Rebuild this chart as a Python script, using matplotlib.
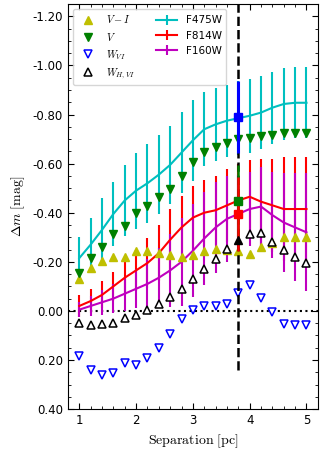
import numpy as np
import matplotlib
matplotlib.use("Agg")
import matplotlib.pyplot as plt
from matplotlib.ticker import MultipleLocator, FormatStrFormatter

plt.rcParams['mathtext.fontset'] = 'cm'
plt.rcParams['font.family'] = ['DejaVu Sans']

sep = [1.0, 1.2, 1.4, 1.6, 1.8, 2.0, 2.2, 2.4, 2.6, 2.8, 3.0,
       3.2, 3.4, 3.6, 3.8, 4.0, 4.2, 4.4, 4.6, 4.8, 5.0]

f475w = [-0.215, -0.27, -0.33, -0.395, -0.45, -0.49, -0.52, -0.555, -0.595, -0.645, -0.695,
         -0.74, -0.76, -0.775, -0.785, -0.795, -0.808, -0.828, -0.843, -0.848, -0.848]
f475w_err = [0.085, 0.11, 0.13, 0.13, 0.145, 0.155, 0.16, 0.16, 0.16, 0.165, 0.165,
             0.15, 0.15, 0.147, 0.15, 0.15, 0.15, 0.147, 0.147, 0.145, 0.145]

f814w = [-0.02, -0.04, -0.065, -0.10, -0.135, -0.165, -0.195, -0.235, -0.29, -0.34, -0.38,
         -0.40, -0.41, -0.43, -0.45, -0.465, -0.445, -0.43, -0.415, -0.415, -0.415]
f814w_err = [0.045, 0.05, 0.055, 0.06, 0.07, 0.085, 0.10, 0.115, 0.125, 0.13, 0.13,
             0.135, 0.14, 0.15, 0.15, 0.15, 0.175, 0.19, 0.21, 0.21, 0.21]

f160w = [-0.005, -0.02, -0.035, -0.05, -0.07, -0.09, -0.11, -0.135, -0.165, -0.20, -0.245,
         -0.295, -0.34, -0.375, -0.395, -0.415, -0.425, -0.39, -0.36, -0.34, -0.32]
f160w_err = [0.03, 0.04, 0.05, 0.06, 0.07, 0.08, 0.10, 0.12, 0.15, 0.18, 0.19,
             0.19, 0.185, 0.175, 0.16, 0.15, 0.16, 0.175, 0.20, 0.22, 0.24]

v_minus_i = [-0.13, -0.174, -0.204, -0.219, -0.219, -0.242, -0.246, -0.235, -0.228, -0.221, -0.228,
             -0.242, -0.251, -0.248, -0.242, -0.23, -0.26, -0.276, -0.30, -0.30, -0.30]
v_band = [-0.154, -0.215, -0.262, -0.312, -0.346, -0.40, -0.428, -0.466, -0.496, -0.55, -0.608,
          -0.649, -0.669, -0.686, -0.699, -0.703, -0.713, -0.717, -0.724, -0.726, -0.726]
w_vi = [0.183, 0.24, 0.261, 0.254, 0.213, 0.22, 0.193, 0.152, 0.094, 0.034, -0.004,
        -0.02, -0.018, -0.029, -0.072, -0.106, -0.054, 0.004, 0.053, 0.058, 0.058]
w_hvi_sep = [1.0, 1.2, 1.4, 1.6, 1.8, 2.0, 2.2, 2.4, 2.6, 2.8, 3.0,
             3.2, 3.4, 3.6, 4.0, 4.2, 4.4, 4.6, 4.8, 5.0]
w_hvi = [0.05, 0.057, 0.054, 0.048, 0.03, 0.016, -0.004, -0.03, -0.058, -0.088, -0.129,
         -0.17, -0.21, -0.251, -0.312, -0.316, -0.282, -0.248, -0.219, -0.194]

# special measurements at the reference separation
ref_sep = 3.8
ref_f475w, ref_f475w_err = -0.79, 0.145
ref_v, ref_v_err = -0.448, 0.148
ref_f814w, ref_f814w_err = -0.394, 0.15
ref_whvi = -0.29
ref_line = [0.24, -1.30]

fig = plt.figure(figsize=(3.25, 4.55), dpi=100)
ax = fig.add_axes([0.209, 0.101, 0.769, 0.890])

ax.axhline(0.0, color='k', ls=':', lw=1.5, zorder=1)

ax.errorbar(sep, f475w, yerr=f475w_err, color='c', lw=1.5, elinewidth=1.5, label='F475W', zorder=2)
ax.errorbar(sep, f814w, yerr=f814w_err, color='r', lw=1.5, elinewidth=1.5, label='F814W', zorder=2)
ax.errorbar(sep, f160w, yerr=f160w_err, color='m', lw=1.5, elinewidth=1.5, label='F160W', zorder=2)

ax.plot(sep, v_minus_i, '^', color='y', ms=5.5, label=r'$V-I$', zorder=3)
ax.plot(sep, v_band, 'v', color='g', ms=5.5, label=r'$V$', zorder=3)
ax.plot(sep, w_vi, 'v', mec='b', mfc='w', mew=1.1, ms=5.5, label=r'$W_{VI}$', zorder=3)
ax.plot(w_hvi_sep, w_hvi, '^', mec='k', mfc='w', mew=1.1, ms=5.5, label=r'$W_{H,VI}$', zorder=3)

ax.plot([ref_sep, ref_sep], ref_line, color='k', ls='--', lw=1.8, zorder=4)
ax.errorbar([ref_sep], [ref_f475w], yerr=[ref_f475w_err], fmt='s', color='b', ms=5.5, elinewidth=2.2, zorder=5)
ax.errorbar([ref_sep], [ref_v], yerr=[ref_v_err], fmt='s', color='g', ms=5.5, elinewidth=1.8, zorder=5)
ax.errorbar([ref_sep], [ref_f814w], yerr=[ref_f814w_err], fmt='s', color='r', ms=5.5, elinewidth=1.8, zorder=5)
ax.plot([ref_sep], [ref_whvi], '^', color='k', ms=5.5, zorder=6)

ax.set_xlim(0.8, 5.2)
ax.set_ylim(0.40, -1.25)
ax.xaxis.set_major_locator(MultipleLocator(1))
ax.xaxis.set_minor_locator(MultipleLocator(0.2))
ax.yaxis.set_major_locator(MultipleLocator(0.2))
ax.yaxis.set_minor_locator(MultipleLocator(0.05))
ax.yaxis.set_major_formatter(FormatStrFormatter('%.2f'))
ax.tick_params(which='both', direction='in', top=True, right=True, labelsize=8.5)
ax.tick_params(which='major', length=4)
ax.tick_params(which='minor', length=2)

ax.set_xlabel(r'$\mathrm{Separation\ [pc]}$', fontsize=10)
ax.set_ylabel(r'$\Delta m\ \mathrm{[mag]}$', fontsize=10)

ax.legend(loc='upper left', ncol=2, fontsize=7.5, numpoints=1)

fig.savefig('out.png', dpi=100)
